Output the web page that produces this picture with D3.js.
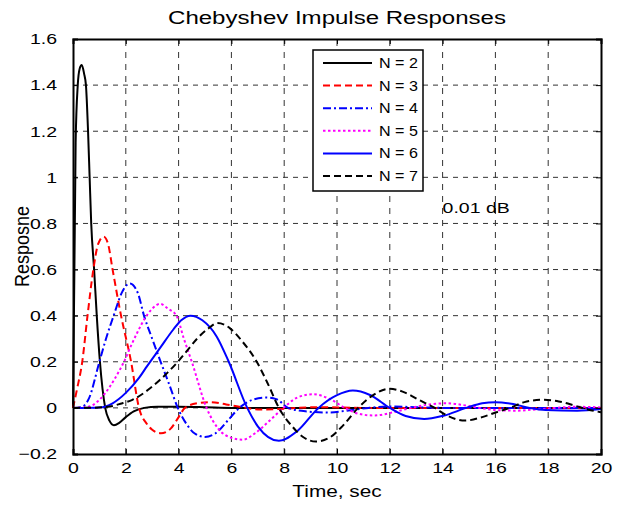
<!DOCTYPE html>
<html>
<head>
<meta charset="utf-8">
<script src="https://cdn.jsdelivr.net/npm/d3@7"></script>
<style>
  body { margin: 0; background: #fff; }
  text { font-family: Arial, "Liberation Sans", sans-serif; fill: #000; }
</style>
</head>
<body>
<div id="chart"></div>
<script>
// series names and tick labels
const seriesNames = ["N = 2", "N = 3", "N = 4", "N = 5", "N = 6", "N = 7"];
const xTicks = [0, 2, 4, 6, 8, 10, 12, 14, 16, 18, 20];
const yTicks = [-0.2, 0, 0.2, 0.4, 0.6, 0.8, 1, 1.2, 1.4, 1.6];

// [time, response]
const n2 = [[0,0],[0.1,1.15],[0.18,1.4],[0.25,1.47],[0.33,1.487],[0.42,1.45],[0.49,1.4],
  [0.57,1.2],[0.63,1.0],[0.69,0.8],[0.8,0.6],[0.9,0.4],[1.02,0.2],[1.22,0],[1.38,-0.055],
  [1.55,-0.075],[1.75,-0.065],[2.0,-0.04],[2.3,-0.015],[2.7,0],[3.2,0.005],[4,0.005],
  [5,0.003],[6,0],[8,0],[20,0]];
const n3 = [[0,0],[0.15,0.08],[0.35,0.2],[0.55,0.4],[0.77,0.6],[0.95,0.71],[1.16,0.743],
  [1.33,0.71],[1.5,0.6],[1.82,0.4],[2.2,0.2],[2.5,0],[2.8,-0.07],[3.0,-0.095],[3.33,-0.11],
  [3.7,-0.09],[4.0,-0.04],[4.24,0],[4.7,0.02],[5.19,0.025],[5.8,0.015],[6.3,0.005],
  [7.1,-0.007],[7.8,-0.005],[8.5,0],[9.3,0.003],[11,0],[20,0]];
const n4 = [[0,0],[0.3,0.003],[0.6,0.04],[1.0,0.2],[1.25,0.3],[1.54,0.4],[1.85,0.5],
  [2.15,0.54],[2.45,0.5],[2.69,0.4],[3.0,0.3],[3.32,0.2],[3.65,0.1],[3.97,0],[4.3,-0.07],
  [4.6,-0.11],[5.0,-0.126],[5.4,-0.11],[5.9,-0.05],[6.3,0],[6.8,0.035],[7.3,0.045],
  [7.7,0.038],[8.15,0],[8.8,-0.015],[9.7,-0.02],[10.5,-0.01],[11.2,0],[12,0.006],
  [13,0.003],[14,0],[20,0]];
const n5 = [[0,0],[0.5,0.003],[0.72,0.01],[1.0,0.035],[1.22,0.064],[1.6,0.13],[1.93,0.2],
  [2.2,0.27],[2.45,0.33],[2.73,0.39],[3.0,0.43],[3.3,0.451],[3.6,0.43],[3.92,0.4],[4.2,0.3],
  [4.5,0.2],[5.06,0],[5.5,-0.09],[6.0,-0.13],[6.42,-0.138],[6.9,-0.11],[7.4,-0.06],
  [7.97,0],[8.5,0.045],[9.1,0.059],[9.7,0.04],[10.3,0],[10.8,-0.025],[11.4,-0.033],
  [12.1,-0.02],[12.8,0],[13.5,0.015],[14.15,0.02],[14.8,0.012],[15.4,0],[16.1,-0.01],
  [16.8,-0.012],[17.6,-0.006],[18.3,0],[19,0.005],[20,0.002]];
const n6 = [[0,0],[1.0,0.002],[1.5,0.02],[2.0,0.065],[2.5,0.13],[2.8,0.18],[3.3,0.26],
  [3.8,0.34],[4.1,0.38],[4.45,0.4],[4.9,0.38],[5.44,0.31],[5.9,0.2],[6.6,0],[7.0,-0.08],
  [7.8,-0.143],[8.5,-0.1],[9.3,0],[10.0,0.055],[10.6,0.075],[11.25,0.056],[12.0,0],
  [12.6,-0.035],[13.3,-0.048],[14.0,-0.035],[14.9,0],[15.5,0.02],[16.0,0.025],[16.6,0.018],
  [17.3,0],[17.9,-0.009],[19.1,-0.012],[20,-0.005]];
const n7 = [[0,0],[0.8,0.001],[1.4,0.006],[1.8,0.018],[2.25,0.035],[2.6,0.058],[2.92,0.085],
  [3.3,0.122],[3.6,0.155],[3.97,0.2],[4.3,0.245],[4.7,0.3],[5.13,0.345],[5.47,0.368],[5.75,0.36],
  [5.95,0.345],[6.4,0.29],[6.96,0.2],[7.4,0.1],[7.8,0],[8.3,-0.08],[8.7,-0.125],[9.2,-0.146],
  [9.7,-0.13],[10.2,-0.08],[10.8,0],[11.3,0.05],[12.0,0.083],[12.6,0.065],[13.1,0.035],
  [13.7,0],[14.2,-0.035],[14.85,-0.055],[15.5,-0.04],[16.0,-0.02],[16.55,0],[17.1,0.025],
  [17.75,0.035],[18.4,0.028],[19.0,0.01],[19.5,-0.007],[20,-0.019]];

const seriesData = [n2, n3, n4, n5, n6, n7];
const colors = ["#000000", "#ff0000", "#0000ff", "#ff00ff", "#0000ff", "#000000"];
const dashes = [null, "7,4", "8,3,2,3", "2.5,2.5", null, "7,4"];

const width = 617, height = 505;
const margin = {top: 39, right: 16, bottom: 51, left: 73};
const sx = 1.3; // the picture's text is a bit wide

const svg = d3.select("#chart").append("svg")
    .attr("width", width)
    .attr("height", height);

svg.append("rect").attr("width", width).attr("height", height).attr("fill", "#fff");

const x = d3.scaleLinear().domain([0, 20]).range([margin.left, width - margin.right]);
const y = d3.scaleLinear().domain([-0.2, 1.6]).range([height - margin.bottom, margin.top]);

// widen a text element around its anchor
const widen = (sel, k) => {
    sel.each(function() {
        const t = d3.select(this);
        const tx = +t.attr("x") || 0, ty = +t.attr("y") || 0;
        t.attr("x", 0).attr("y", 0)
         .attr("transform", `translate(${tx},${ty}) scale(${k},1)`);
    });
};

// grid
const grid = svg.append("g");
grid.selectAll(".vg").data(xTicks.slice(1, -1)).join("line")
    .attr("x1", d => x(d)).attr("x2", d => x(d))
    .attr("y1", y(-0.2)).attr("y2", y(1.6))
    .attr("stroke", "#333").attr("stroke-width", 1)
    .attr("stroke-dasharray", "6,6");
grid.selectAll(".hg").data(yTicks.slice(1, -1)).join("line")
    .attr("x1", x(0)).attr("x2", x(20))
    .attr("y1", d => y(d)).attr("y2", d => y(d))
    .attr("stroke", "#333").attr("stroke-width", 1)
    .attr("stroke-dasharray", "5,5");

// curves
const line = d3.line()
    .x(d => x(d[0]))
    .y(d => y(d[1]))
    .curve(d3.curveMonotoneX);

const plot = svg.append("g");
seriesData.forEach((s, i) => {
    plot.append("path")
        .datum(s)
        .attr("fill", "none")
        .attr("stroke", colors[i])
        .attr("stroke-width", 2)
        .attr("stroke-dasharray", dashes[i])
        .attr("d", line);
});

// axes, MATLAB style: ticks inside on all four sides
const tickLen = 5;
const axisBottom = d3.axisBottom(x).tickValues(xTicks).tickSize(-tickLen).tickPadding(8);
const axisLeft = d3.axisLeft(y).tickValues(yTicks).tickSize(-tickLen).tickPadding(16)
    .tickFormat(d => d3.format("")(+d.toFixed(1)));
const axisTop = d3.axisTop(x).tickValues(xTicks).tickSize(-tickLen).tickFormat("");
const axisRight = d3.axisRight(y).tickValues(yTicks).tickSize(-tickLen).tickFormat("");

const gb = svg.append("g").attr("transform", `translate(0,${y(-0.2)})`).call(axisBottom);
const gl = svg.append("g").attr("transform", `translate(${x(0)},0)`).call(axisLeft);
const gt = svg.append("g").attr("transform", `translate(0,${y(1.6)})`).call(axisTop);
const gr = svg.append("g").attr("transform", `translate(${x(20)},0)`).call(axisRight);

[gb, gl, gt, gr].forEach(g => {
    g.select(".domain").attr("stroke", "#000").attr("stroke-width", 2);
    g.selectAll(".tick line").attr("stroke", "#000").attr("stroke-width", 1);
    g.selectAll(".tick text").attr("font-size", 15).attr("font-family", "Arial, 'Liberation Sans', sans-serif");
    widen(g.selectAll(".tick text"), sx);
});

// titles
svg.append("text")
    .attr("x", x(10)).attr("y", 24)
    .attr("text-anchor", "middle")
    .attr("font-size", 18.5)
    .text("Chebyshev Impulse Responses")
    .call(widen, sx);

svg.append("text")
    .attr("x", x(10)).attr("y", 497)
    .attr("text-anchor", "middle")
    .attr("font-size", 16)
    .text("Time, sec")
    .call(widen, sx);

svg.append("text")
    .attr("transform", `translate(29,${y(0.7)}) rotate(-90) scale(1,1.12)`)
    .attr("text-anchor", "middle")
    .attr("font-size", 18)
    .text("Resposne");

svg.append("text")
    .attr("x", x(14.0)).attr("y", y(0.845))
    .attr("font-size", 15)
    .text("0.01 dB")
    .call(widen, sx);

// legend
const legend = svg.append("g").attr("transform", "translate(313,50)");
legend.append("rect")
    .attr("width", 110).attr("height", 141)
    .attr("fill", "#fff").attr("stroke", "#000").attr("stroke-width", 1.5);

const rows = legend.selectAll(".row").data(seriesNames).join("g")
    .attr("transform", (d, i) => `translate(0,${13 + i * 22.6})`);
rows.append("line")
    .attr("x1", 10).attr("x2", 59)
    .attr("stroke", (d, i) => colors[i])
    .attr("stroke-width", 2)
    .attr("stroke-dasharray", (d, i) => dashes[i]);
rows.append("text")
    .attr("x", 66).attr("dy", "0.35em")
    .attr("font-size", 14)
    .text(d => d)
    .call(widen, 1.15);
</script>
</body>
</html>
